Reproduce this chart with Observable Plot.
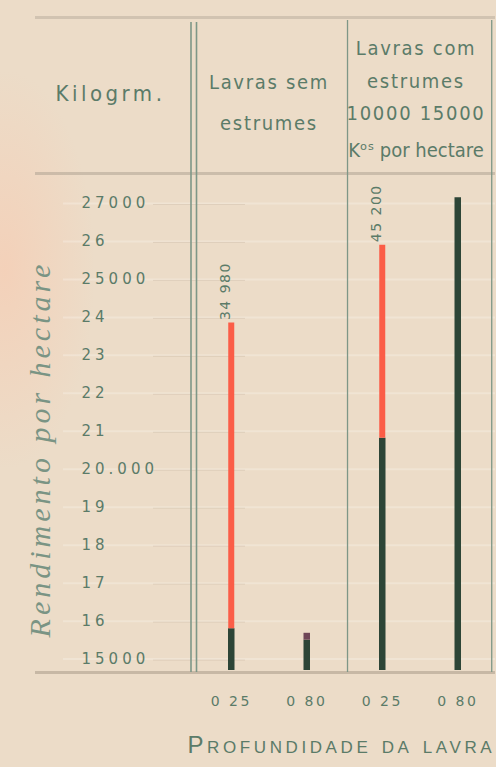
<!DOCTYPE html>
<html><head><meta charset="utf-8">
<script src="https://cdn.jsdelivr.net/npm/d3@7"></script>
<script src="https://cdn.jsdelivr.net/npm/@observablehq/plot@0.6"></script>
<style>
html,body{margin:0;padding:0;}
body{width:496px;height:767px;overflow:hidden;
  background: radial-gradient(ellipse 90px 200px at 5px 270px, rgba(246,205,180,0.75), rgba(236,220,200,0)), #ecdcc8;}
#chart svg{display:block;}
g[aria-description="y-tick-labels"] text{letter-spacing:4px;}
g[aria-description="x-tick-labels"] text{letter-spacing:2.5px;}
g[aria-description="value-labels"] text{letter-spacing:1.5px;}
g[aria-description="header"] text{letter-spacing:1.7px;}
g[aria-description="header-wide"] text{letter-spacing:3.5px;}
g[aria-description="header-tight"] text{letter-spacing:0px;}
g[aria-description="y-title"] text{letter-spacing:4px;}
g[aria-description="x-title"] text{letter-spacing:3.6px;}
</style></head><body><div id="chart"></div><script>
// Data
const depths = ["0 25", "0 80", "0 25", "0 80"];            // depth of ploughing (m)
const darkTop = [15800, 15500, 20820, 27150];               // dark segment tops (kg/ha)
const redTop = [23850, null, 25900, null];                  // red segment tops
const tipTop = [null, 15680, null, null];                   // small purple tip
const valueLabels = ["34 980", null, "45 200", null];
const baseline = 14700;
const yTicks = [15000, 16000, 17000, 18000, 19000, 20000, 21000, 22000, 23000, 24000, 25000, 26000, 27000];
const yTickLabels = ["15000", "16", "17", "18", "19", "20.000", "21", "22", "23", "24", "25000", "26", "27000"];
const separators = [1.54, 3.45];

const idx = depths.map((d, i) => i);
const txt = "#5b7b68";
const lineC = "#7e9787";
const hdrFont = "'Liberation Sans Narrow', 'DejaVu Sans Condensed', Roboto, sans-serif";

const plot = Plot.plot({
  width: 496, height: 767,
  marginLeft: 193, marginRight: 1, marginTop: 203, marginBottom: 97,
  x: {domain: [-0.5, 3.5], axis: null},
  y: {domain: [baseline, 27000], axis: null},
  style: {background: "transparent", overflow: "visible"},
  marks: [
    Plot.ruleY(yTicks, {insetLeft: -130, stroke: "#f6eee3", strokeWidth: 2, strokeOpacity: 0.45}),
    Plot.ruleY(yTicks, {insetLeft: -40, insetRight: 250, dy: 1, stroke: "#cdbba6", strokeWidth: 1, strokeOpacity: 0.45}),
    Plot.ruleY([baseline], {insetLeft: -158, dy: 2, stroke: "#a99a88", strokeWidth: 3, strokeOpacity: 0.55}),
    Plot.ruleY([27000], {insetLeft: -158, dy: -30, stroke: "#a99e8e", strokeWidth: 3, strokeOpacity: 0.5}),
    Plot.ruleY([27000], {insetLeft: -158, dy: -186, stroke: "#a99e8e", strokeWidth: 3, strokeOpacity: 0.4}),
    Plot.ruleX([-0.5], {dx: -2.5, insetTop: -181, insetBottom: -2, stroke: lineC, strokeWidth: 1.6}),
    Plot.ruleX([-0.5], {dx: 3, insetTop: -181, insetBottom: -2, stroke: lineC, strokeWidth: 1.6}),
    Plot.ruleX(separators, {insetTop: -183, insetBottom: -2, stroke: lineC, strokeWidth: 1.3}),
    Plot.ruleX(idx, {x: i => i, y1: baseline, y2: i => darkTop[i], stroke: "#2d4537", strokeWidth: 6.5}),
    Plot.ruleX(idx.filter(i => redTop[i] != null), {x: i => i, y1: i => darkTop[i], y2: i => redTop[i], stroke: "#fb5d47", strokeWidth: 6}),
    Plot.ruleX(idx.filter(i => tipTop[i] != null), {x: i => i, y1: i => darkTop[i], y2: i => tipTop[i], stroke: "#6f4657", strokeWidth: 6.5}),
    Plot.text(idx.filter(i => valueLabels[i]), {ariaDescription: "value-labels", x: i => i, y: i => redTop[i], text: i => valueLabels[i], rotate: -90, textAnchor: "start", dx: -6, dy: -3, fill: txt, fontSize: 14, fontFamily: "DejaVu Sans"}),
    Plot.text(yTicks, {ariaDescription: "y-tick-labels", y: d => d, text: (d, i) => yTickLabels[i], frameAnchor: "left", dx: -112, textAnchor: "start", fill: txt, fontSize: 15, fontFamily: "DejaVu Sans"}),
    Plot.text(idx, {ariaDescription: "x-tick-labels", x: i => i, text: i => depths[i], frameAnchor: "bottom", dy: 35, fill: txt, fontSize: 14, fontFamily: "DejaVu Sans"}),
    Plot.text(["Kilogrm."], {ariaDescription: "header-wide", x: -1.6, y: 27000, dy: -110, fill: txt, fontSize: 22, fontFamily: hdrFont}),
    Plot.text(["Lavras sem\nestrumes"], {ariaDescription: "header", x: 0.5, y: 27000, dy: -107, lineHeight: 2.05, fill: txt, fontSize: 20, fontFamily: hdrFont}),
    Plot.text(["Lavras com\nestrumes\n10000 15000"], {ariaDescription: "header", x: 2.5, y: 27000, dx: -4, dy: -126, lineHeight: 1.62, fill: txt, fontSize: 20, fontFamily: hdrFont}),
    Plot.text(["Kᵒˢ por hectare"], {ariaDescription: "header-tight", x: 2.5, y: 27000, dx: -4, dy: -53, fill: txt, fontSize: 20, fontFamily: hdrFont}),
    Plot.text(["Rendimento por hectare"], {ariaDescription: "y-title", frameAnchor: "left", textAnchor: "middle", dx: -153, dy: 12, rotate: -90, fill: "#7a9484", fontSize: 30, fontStyle: "italic", fontFamily: "'Liberation Serif', 'DejaVu Serif', serif"}),
    Plot.text(["Profundidade da lavra"], {ariaDescription: "x-title", frameAnchor: "bottom-left", dx: -6, dy: 82, textAnchor: "start", fontVariant: "small-caps", fill: txt, fontSize: 24, fontFamily: "'Liberation Sans', sans-serif"})
  ]
});
document.getElementById("chart").appendChild(plot);
</script></body></html>
